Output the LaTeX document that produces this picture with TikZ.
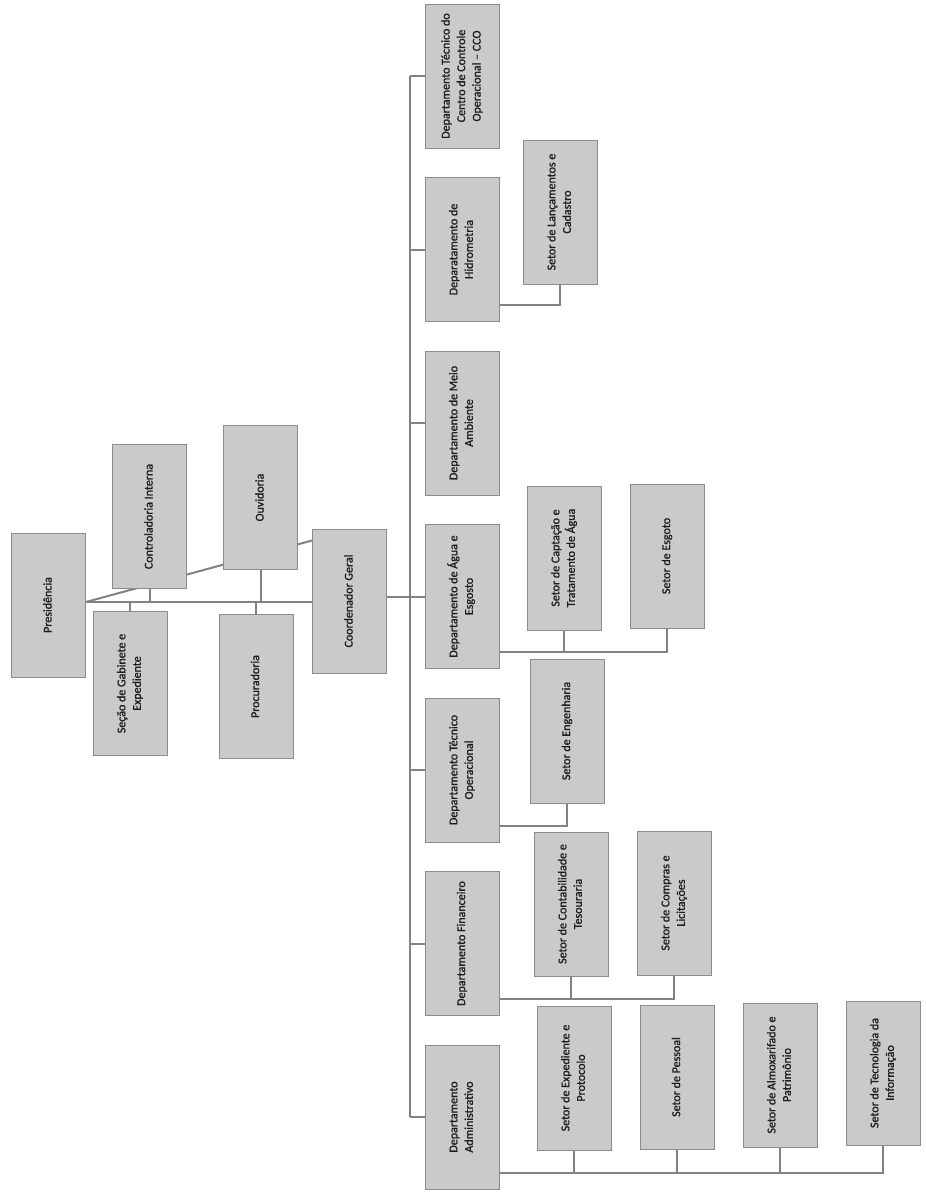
\documentclass[tikz,border=0pt]{standalone}
\usepackage{fontspec}
\setmainfont{Carlito}
\newfontfamily\boxfont[FakeBold=1.2]{Carlito}
\usepackage{graphicx}
\usetikzlibrary{backgrounds,calc}
\definecolor{boxfill}{RGB}{202,202,202}
\definecolor{boxline}{RGB}{140,140,140}
\definecolor{conn}{RGB}{130,130,130}
\definecolor{txt}{RGB}{30,30,30}
\newcommand\vtxt[1]{\rotatebox{90}{\begin{tabular}{@{}c@{}}#1\end{tabular}}}
\begin{document}
\begin{tikzpicture}[x=1pt,y=-1pt,
  orgbox/.style={draw=boxline, fill=boxfill, line width=1pt, minimum width=74pt, minimum height=144pt, inner sep=0pt, font=\boxfont\fontsize{12}{15.5}\selectfont, text=txt},
  link/.style={draw=conn, line width=2pt}]
\useasboundingbox (0,0) rectangle (926,1197);
% upper group
\node[orgbox] (pres)  at (48.5,605)   {\vtxt{Presidência}};
\node[orgbox] (ctrl)  at (149.5,516.5){\vtxt{Controladoria Interna}};
\node[orgbox] (ouv)   at (260.5,497.5){\vtxt{Ouvidoria}};
\node[orgbox] (coord) at (349.5,601)  {\vtxt{Coordenador Geral}};
\node[orgbox] (secao) at (130,683.5)  {\vtxt{Seção de Gabinete e\\Expediente}};
\node[orgbox] (proc)  at (256,686.5)  {\vtxt{Procuradoria}};
% departments
\node[orgbox] (cco)   at (462,76)     {\vtxt{Departamento Técnico do\\Centro de Controle\\Operacional – CCO}};
\node[orgbox] (hidro) at (462,249.5)  {\vtxt{Deparatamento de\\Hidrometria}};
\node[orgbox] (meio)  at (462,423)    {\vtxt{Departamento de Meio\\Ambiente}};
\node[orgbox] (agua)  at (462,596.5)  {\vtxt{Departamento de Água e\\Esgosto}};
\node[orgbox] (tecop) at (462,770)    {\vtxt{Departamento Técnico\\Operacional}};
\node[orgbox] (fin)   at (462,943.5)  {\vtxt{Departamento Financeiro}};
\node[orgbox] (adm)   at (462,1117)   {\vtxt{Departamento\\Administrativo}};
% sectors
\node[orgbox] (lanc)  at (560,212)    {\vtxt{Setor de Lançamentos e\\Cadastro}};
\node[orgbox] (capt)  at (564,558)    {\vtxt{Setor de Captação e\\Tratamento de Água}};
\node[orgbox] (esg)   at (667,556)    {\vtxt{Setor de Esgoto}};
\node[orgbox] (eng)   at (567,731)    {\vtxt{Setor de Engenharia}};
\node[orgbox] (cont)  at (571,904)    {\vtxt{Setor de Contabilidade e\\Tesouraria}};
\node[orgbox] (comp)  at (674,903)    {\vtxt{Setor de Compras e\\Licitações}};
\node[orgbox] (exp)   at (574,1078)   {\vtxt{Setor de Expediente e\\Protocolo}};
\node[orgbox] (pess)  at (677,1077)   {\vtxt{Setor de Pessoal}};
\node[orgbox] (almox) at (780,1075)   {\vtxt{Setor de Almoxarifado e\\Patrimônio}};
\node[orgbox] (tec)   at (883,1073)   {\vtxt{Setor de Tecnologia da\\Informação}};
\begin{scope}[on background layer]
\fill[white] (0,0) rectangle (926,1197);
\coordinate (tr) at (0,602);
\draw[link] (pres.east |- tr) -- (coord.west |- tr);
\draw[link] (pres.east |- tr) -- ([yshift=-12pt]coord.north west);
\draw[link] (ctrl.south) -- (ctrl.south |- tr);
\draw[link] (ouv.south) -- (ouv.south |- tr);
\draw[link] (secao.north) -- (secao.north |- tr);
\draw[link] (proc.north) -- (proc.north |- tr);
\draw[link] (coord.east |- agua.west) -- (agua.west);
\coordinate (bus) at (410,0);
\draw[link] (bus |- cco.west) -- (bus |- adm.west);
\foreach \d in {cco,hidro,meio,agua,tecop,fin,adm} \draw[link] (bus |- \d.west) -- (\d.west);
\coordinate (rh) at ([yshift=17pt]hidro.south east);
\draw[link] (rh) -| (lanc.south);
\coordinate (ra) at ([yshift=17pt]agua.south east);
\draw[link] (ra) -| (esg.south);
\draw[link] (capt.south) -- (capt.south |- ra);
\coordinate (rt) at ([yshift=17pt]tecop.south east);
\draw[link] (rt) -| (eng.south);
\coordinate (rf) at ([yshift=17pt]fin.south east);
\draw[link] (rf) -| (comp.south);
\draw[link] (cont.south) -- (cont.south |- rf);
\coordinate (rd) at ([yshift=17pt]adm.south east);
\draw[link] (rd) -| (tec.south);
\draw[link] (exp.south) -- (exp.south |- rd);
\draw[link] (pess.south) -- (pess.south |- rd);
\draw[link] (almox.south) -- (almox.south |- rd);
\end{scope}
\end{tikzpicture}
\end{document}
